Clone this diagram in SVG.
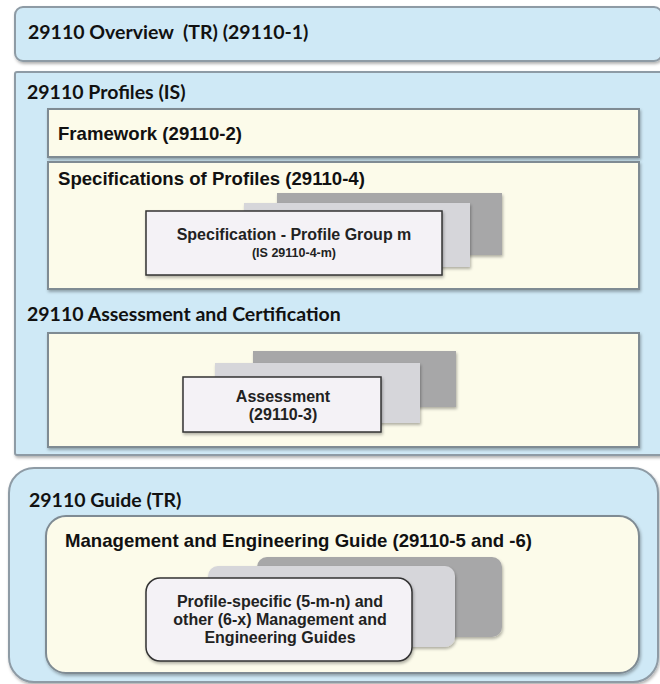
<svg xmlns="http://www.w3.org/2000/svg" width="660" height="684" viewBox="0 0 660 684">
<defs>
<filter id="sh" x="-5%" y="-5%" width="110%" height="115%"><feDropShadow dx="1" dy="2" stdDeviation="1.5" flood-color="#000" flood-opacity="0.3"/></filter>
</defs>
<style>
.outer{fill:#cfe9f6;stroke:#8e9ba5;stroke-width:2}
.cream{fill:#fcfbea;stroke:#7f8b93;stroke-width:2}
.dark{fill:#a7a7a8}
.mid{fill:#d6d6da}
.front{fill:#f4f2f6;stroke:#333;stroke-width:1.5}
.h{font-family:Lato,"Open Sans",sans-serif;font-weight:bold;font-size:19.5px;fill:#111}
.t{font-family:"Liberation Sans",Arial,sans-serif;font-weight:bold;font-size:18.6px;fill:#111}
.c{font-family:"Liberation Sans",Arial,sans-serif;font-weight:bold;font-size:16px;fill:#222;text-anchor:middle}
.s{font-family:"Liberation Sans",Arial,sans-serif;font-weight:bold;font-size:12.5px;fill:#222;text-anchor:middle}
</style>
<g id="overview">
<rect class="outer" x="15" y="7" width="647" height="54" rx="8" filter="url(#sh)"/>
<text class="h" x="28" y="39" xml:space="preserve">29110 Overview  (TR) (29110-1)</text>
</g>
<g id="profiles">
<rect class="outer" x="15" y="72" width="647" height="383" rx="2" filter="url(#sh)"/>
<text class="h" x="27" y="99">29110 Profiles (IS)</text>
</g>
<g id="framework">
<rect class="cream" x="48" y="109" width="591" height="48" filter="url(#sh)"/>
<text class="t" x="58" y="140">Framework (29110-2)</text>
</g>
<g id="specifications">
<rect class="cream" x="48" y="162" width="591" height="127" filter="url(#sh)"/>
<text class="t" x="58" y="185">Specifications of Profiles (29110-4)</text>
<rect class="dark" x="277" y="193" width="225" height="62" filter="url(#sh)"/>
<rect class="mid" x="244" y="203" width="226" height="64" filter="url(#sh)"/>
</g>
<g id="spec-group">
<rect class="front" x="146" y="211" width="296" height="64" filter="url(#sh)"/>
<text class="c" x="294" y="240">Specification - Profile Group m</text>
<text class="s" x="294" y="257">(IS 29110-4-m)</text>
</g>
<g id="assessment-certification">
<text class="h" x="27" y="321">29110 Assessment and Certification</text>
<rect class="cream" x="48" y="333" width="591" height="114" filter="url(#sh)"/>
<rect class="dark" x="253" y="351" width="203" height="56" filter="url(#sh)"/>
<rect class="mid" x="215" y="363" width="205" height="60" filter="url(#sh)"/>
</g>
<g id="assessment">
<rect class="front" x="183" y="377" width="198" height="55" filter="url(#sh)"/>
<text class="c" x="283" y="402">Assessment</text>
<text class="c" x="283" y="420">(29110-3)</text>
</g>
<g id="guide">
<rect class="outer" x="9" y="468" width="649" height="214" rx="25" filter="url(#sh)"/>
<text class="h" x="29" y="507">29110 Guide (TR)</text>
</g>
<g id="mgmt">
<rect class="cream" x="46" y="516" width="593" height="157" rx="20" filter="url(#sh)"/>
<text class="t" x="65" y="547">Management and Engineering Guide (29110-5 and -6)</text>
<rect class="dark" x="257" y="557" width="245" height="80" rx="10" filter="url(#sh)"/>
<rect class="mid" x="208" y="566" width="247" height="81" rx="10" filter="url(#sh)"/>
</g>
<g id="guides">
<rect class="front" x="146" y="578" width="266" height="83" rx="14" filter="url(#sh)"/>
<text class="c" x="280" y="607">Profile-specific (5-m-n) and</text>
<text class="c" x="280" y="625">other (6-x) Management and</text>
<text class="c" x="280" y="643">Engineering Guides</text>
</g>
<g id="connectors"/>
</svg>
